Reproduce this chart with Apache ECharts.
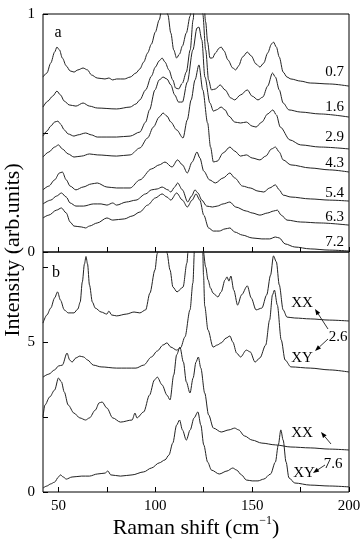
<!DOCTYPE html>
<html><head><meta charset="utf-8">
<script src="https://cdn.jsdelivr.net/npm/echarts@6/dist/echarts.min.js"></script>
<style>html,body{margin:0;padding:0;background:#fff}#c{width:364px;height:550px}</style>
</head><body><div id="c"></div>
<script>
// ---- axis ticks / labels ----
const xTickValues = [50, 75, 100, 125, 150, 175, 200];
const xLabelValues = [50, 100, 150, 200];
const topYTicks = [0, 0.5, 1];
const topYLabels = [0, 1];
const botYTicks = [0, 2.5, 5, 7.5];
const botYLabels = [0, 5];

// ---- panel a: spectra at different pressures ----
const topNames = ['0.7', '1.6', '2.9', '4.3', '5.4', '6.3', '7.2'];
const a07 = [[42,0.735],[44,0.752],[46,0.794],[48,0.840],[49.2,0.861],[50.5,0.849],[52,0.815],[54,0.782],[56,0.761],[58,0.756],[60,0.765],[62.7,0.773],[65,0.765],[67,0.744],[70,0.731],[74,0.727],[76,0.731],[78,0.723],[80,0.727],[84,0.727],[87,0.735],[90,0.752],[92,0.769],[94,0.798],[96,0.836],[98,0.874],[100,0.924],[102,0.975],[104,1.06],[105.5,1.02],[106.5,0.996],[108,0.920],[109.5,0.849],[111,0.815],[112.5,0.832],[114,0.866],[116,0.920],[118,0.992],[119.5,1.15],[121,1.5],[122,1.6],[123,1.5],[124.5,1.12],[126,0.966],[127,0.882],[128.2,0.815],[129.5,0.815],[131,0.836],[133,0.857],[134,0.861],[135.5,0.845],[137.5,0.807],[140,0.773],[141.5,0.765],[143,0.782],[145,0.819],[147.5,0.840],[149.5,0.824],[152,0.790],[154,0.777],[156,0.794],[158,0.836],[160,0.874],[161,0.882],[162.5,0.861],[164,0.819],[166,0.756],[168,0.735],[170,0.727],[175,0.718],[180,0.710],[190,0.706],[200,0.697]];
const a16 = [[42,0.609],[44.5,0.634],[47,0.655],[49.2,0.676],[51,0.660],[53,0.634],[55.5,0.618],[59,0.613],[62.7,0.626],[66,0.613],[70,0.605],[80,0.601],[87,0.609],[90,0.622],[92,0.639],[95,0.681],[98,0.739],[100,0.777],[102,0.803],[103.5,0.815],[105,0.798],[107,0.765],[109,0.723],[110.5,0.689],[112,0.685],[114,0.710],[116,0.756],[118,0.849],[119.5,0.975],[121,1.2],[122,1.35],[123,1.25],[124.5,1.0],[126,0.849],[127.5,0.723],[129,0.681],[131,0.685],[133.5,0.702],[136,0.681],[139,0.647],[141,0.639],[144,0.660],[147.5,0.681],[150,0.655],[153,0.639],[155.5,0.651],[158,0.697],[160.5,0.752],[162,0.735],[164,0.681],[166,0.626],[169,0.597],[175,0.588],[185,0.580],[200,0.567]];
const a29 = [[42,0.487],[44,0.508],[46,0.529],[48,0.546],[49.7,0.550],[51,0.538],[53,0.513],[55,0.496],[58,0.487],[60,0.492],[64,0.500],[67,0.492],[70,0.483],[80,0.483],[87,0.487],[92,0.504],[95,0.546],[97,0.597],[99.8,0.681],[102,0.723],[104,0.735],[106,0.727],[108,0.702],[110,0.660],[112,0.630],[114,0.630],[116.5,0.714],[119.4,0.849],[121.5,0.941],[122.5,0.945],[124,0.891],[125.6,0.735],[128.2,0.626],[130,0.592],[131.5,0.597],[134,0.609],[136,0.597],[138,0.571],[141,0.546],[144,0.542],[147,0.546],[150,0.529],[152,0.525],[155,0.546],[158,0.580],[160.7,0.597],[162.5,0.576],[164.5,0.525],[169.5,0.471],[175,0.450],[185,0.441],[200,0.433]];
const a43 = [[42,0.399],[45,0.420],[48,0.441],[50,0.450],[52,0.433],[55,0.412],[58,0.399],[62,0.403],[66,0.412],[70,0.408],[80,0.403],[87,0.408],[92,0.437],[96,0.479],[99,0.525],[102,0.567],[104,0.584],[106,0.571],[108,0.546],[111,0.513],[114.3,0.479],[116.5,0.555],[118.5,0.639],[120.5,0.723],[122.5,0.786],[124.5,0.681],[127,0.542],[128.5,0.441],[130,0.378],[132,0.382],[135,0.416],[138.5,0.441],[141,0.424],[144,0.403],[147,0.408],[150,0.395],[154,0.387],[157,0.403],[160,0.433],[162,0.441],[164,0.420],[166,0.387],[170,0.366],[180,0.353],[190,0.345],[200,0.336]];
const a54 = [[42,0.261],[45,0.277],[48,0.303],[50.5,0.332],[52,0.336],[54,0.303],[56,0.277],[59,0.261],[62.7,0.273],[67,0.286],[70,0.290],[75,0.273],[80,0.269],[87,0.269],[92,0.303],[98,0.349],[102,0.366],[105,0.378],[108.6,0.357],[111.5,0.387],[114,0.366],[116.5,0.332],[119,0.378],[121.5,0.420],[123,0.395],[125,0.340],[128,0.303],[131,0.290],[135,0.311],[138.5,0.332],[141,0.311],[145,0.277],[149,0.269],[153,0.256],[156,0.252],[159,0.269],[162,0.282],[164,0.261],[166,0.239],[170,0.231],[180,0.223],[190,0.218],[200,0.214]];
const a63 = [[42,0.202],[46,0.218],[49,0.235],[51.5,0.248],[54,0.231],[56,0.206],[59,0.193],[63,0.193],[68,0.202],[72,0.202],[75,0.197],[78,0.206],[80,0.197],[85,0.210],[90,0.218],[95,0.244],[98,0.261],[101,0.265],[103.5,0.273],[106.5,0.261],[108,0.252],[110,0.273],[111.5,0.290],[114,0.261],[116.7,0.210],[118.7,0.235],[120.5,0.261],[122,0.248],[124,0.218],[126.5,0.193],[129.5,0.189],[132,0.193],[135,0.202],[138.5,0.210],[141.5,0.189],[147,0.172],[150,0.164],[154,0.155],[158,0.164],[161,0.172],[163,0.176],[165,0.155],[168,0.134],[175,0.126],[185,0.122],[200,0.113]];
const a72 = [[42,0.143],[45,0.155],[49,0.176],[51.5,0.185],[54,0.164],[56,0.126],[58,0.109],[62,0.105],[64,0.101],[66,0.109],[70,0.122],[75,0.143],[78,0.134],[84,0.139],[88,0.151],[92,0.168],[96,0.197],[100,0.227],[103.5,0.244],[106,0.231],[108,0.218],[111,0.248],[114,0.218],[116.5,0.189],[119,0.218],[121,0.244],[123,0.218],[125,0.155],[127.5,0.101],[130,0.088],[133,0.088],[136,0.097],[138.5,0.101],[141,0.084],[145,0.071],[150,0.059],[155,0.055],[159,0.055],[162,0.063],[164,0.059],[167,0.034],[172,0.021],[180,0.013],[190,0.008],[200,0.004]];

// ---- panel b: polarized spectra ----
const bXX26 = [[42,5.63],[44,5.90],[46,6.13],[48,6.47],[49.5,6.67],[51,6.40],[53,6.07],[55,5.97],[58,5.97],[60,6.10],[61.2,6.33],[62.3,7.0],[63.4,7.6],[64.2,7.85],[65,7.6],[66,6.9],[67.5,6.33],[69,6.13],[72,6.00],[75,5.93],[76,6.03],[77.5,5.90],[80,5.87],[85,5.93],[89,6.00],[92,5.97],[95,6.07],[97.2,6.63],[99.8,7.4],[101,7.95],[103,8.6],[105,8.5],[106,7.97],[107.6,7.40],[109.1,6.83],[111.2,6.67],[114.3,6.83],[116.3,7.63],[117,8.1],[119,9.5],[122,11],[124,9.0],[124.6,8.1],[126,7.5],[127.2,7.07],[128.5,6.8],[129.8,6.63],[132.3,6.50],[134,6.67],[136,7.07],[137,7.17],[138,7.03],[139,7.20],[140.5,6.73],[142.5,6.23],[144.5,6.57],[147.5,6.87],[149.5,6.47],[152,6.07],[155,6.13],[157.5,6.57],[159.5,7.23],[161,7.87],[162.5,7.67],[164,6.90],[166,6.07],[168,5.83],[172,5.80],[180,5.77],[190,5.73],[200,5.70]];
const bXY26 = [[42,3.83],[45,3.93],[48,4.07],[50,4.20],[52,4.23],[54.4,4.63],[55.8,4.40],[57,4.33],[59,4.47],[61,4.53],[63,4.50],[65,4.40],[68,4.23],[72,4.17],[80,4.13],[90,4.13],[94,4.23],[98,4.50],[101,4.70],[104,4.90],[106,4.97],[108,4.83],[111,4.73],[113,4.80],[115.3,5.17],[117.9,6.07],[119.4,6.97],[120.3,8.2],[122.5,11],[124.3,8.5],[124.9,7.2],[125.5,6.2],[127.2,5.4],[129.8,4.83],[132,4.90],[134,4.97],[136.5,5.13],[138.5,5.20],[140,5.00],[142,4.63],[144,4.50],[147,4.73],[149,4.67],[151.5,4.33],[154,4.47],[157,4.90],[159,5.73],[160.5,6.57],[161.5,6.73],[163,6.23],[165,5.07],[167,4.40],[170,4.17],[180,4.13],[190,4.07],[200,4.00]];
const bXX76 = [[42,2.50],[43,2.90],[45.5,3.17],[48,3.40],[50,3.80],[51.5,3.67],[53,3.33],[55,2.90],[58,2.63],[61,2.47],[64,2.40],[66,2.47],[69,2.73],[71,2.97],[72.5,3.00],[75,2.80],[78,2.47],[82,2.33],[88,2.40],[89.5,2.63],[90.5,2.47],[94,2.67],[97,3.23],[99.5,3.73],[101,3.83],[103.5,3.57],[106,3.23],[107.6,3.07],[109.5,3.90],[111,4.57],[112.7,4.83],[114.5,4.33],[116,3.67],[117.9,3.30],[119.5,3.80],[121,4.33],[122.2,4.50],[123.5,4.13],[125.5,3.30],[127.5,2.57],[130,2.13],[134,2.00],[138,2.07],[141,2.13],[143,2.07],[146,1.87],[150,1.73],[155,1.63],[162,1.57],[170,1.50],[180,1.47],[190,1.43],[200,1.40]];
const bXY76 = [[42,0.13],[44,0.20],[46,0.27],[48,0.33],[50,0.50],[51,0.57],[52.5,0.50],[54,0.43],[57,0.50],[62,0.53],[66,0.53],[70,0.60],[74,0.63],[75.5,0.70],[77,0.57],[82,0.53],[88,0.57],[94,0.67],[98,0.80],[102,0.97],[105,1.07],[107,1.23],[109,1.63],[111,2.23],[112.5,2.40],[114,2.07],[116,1.73],[118,2.07],[120,2.47],[122,2.67],[123.5,2.23],[125,1.57],[127,1.00],[129,0.73],[133,0.60],[137,0.70],[140,0.80],[142,0.73],[144.5,0.57],[147,0.40],[150,0.37],[153,0.37],[156,0.43],[159.5,0.60],[162,1.00],[163.5,1.57],[164.8,2.07],[166,1.73],[167.5,1.00],[169,0.47],[172,0.30],[180,0.23],[190,0.20],[200,0.17]];

const FONT = '"Liberation Serif","Times New Roman",serif';
const LINE = '#222';

const chart = echarts.init(document.getElementById('c'), null, {renderer: 'canvas'});

function mkSeries(data, gi) {
  return {type: 'line', xAxisIndex: gi, yAxisIndex: gi, data: data, showSymbol: false,
    smooth: 0.3, smoothMonotone: 'x', clip: true, silent: true,
    lineStyle: {color: LINE, width: 1}};
}
const series = [a07, a16, a29, a43, a54, a63, a72].map(d => mkSeries(d, 0))
  .concat([bXX26, bXY26, bXX76, bXY76].map(d => mkSeries(d, 1)));

function xAx(gi, showLabel) {
  return {type: 'value', gridIndex: gi, min: 42, max: 200,
    axisLine: {show: false}, splitLine: {show: false},
    axisTick: {show: true, inside: true, length: 5, customValues: xTickValues, lineStyle: {color: '#000'}},
    axisLabel: {show: showLabel, customValues: xLabelValues, color: '#000', fontFamily: FONT, fontSize: 15, margin: 7},
    name: showLabel ? '{n|Raman shift (cm}{s|\u22121}{n|)}' : '',
    nameLocation: 'middle', nameGap: 22,
    nameTextStyle: {rich: {
      n: {fontFamily: FONT, fontSize: 22, color: '#000', lineHeight: 26},
      s: {fontFamily: FONT, fontSize: 12, color: '#000', verticalAlign: 'top', lineHeight: 14}
    }}
  };
}
function yAx(gi, max, ticks, labels) {
  return {type: 'value', gridIndex: gi, min: 0, max: max,
    axisLine: {show: false}, splitLine: {show: false},
    axisTick: {show: true, inside: true, length: 5, customValues: ticks, lineStyle: {color: '#000'}},
    axisLabel: {customValues: labels, color: '#000', fontFamily: FONT, fontSize: 15, margin: 8}};
}

function txt(t, x, y, align, size) {
  return {type: 'text', x: x, y: y, silent: true,
    style: {text: t, fill: '#000', font: (size || 15) + 'px ' + FONT, textAlign: align || 'center', textVerticalAlign: 'middle'}};
}
function arrow(x1, y1, x2, y2) {
  const ang = Math.atan2(y2 - y1, x2 - x1), L = 6, W = 2.3;
  const bx = x2 - L * Math.cos(ang), by = y2 - L * Math.sin(ang);
  const px = -Math.sin(ang) * W, py = Math.cos(ang) * W;
  return [
    {type: 'line', silent: true, shape: {x1: x1, y1: y1, x2: bx, y2: by}, style: {stroke: '#000', lineWidth: 0.8}},
    {type: 'polygon', silent: true, shape: {points: [[x2, y2], [bx + px, by + py], [bx - px, by - py]]}, style: {fill: '#000'}}
  ];
}

const topLabelY = [72, 107, 137, 163, 193, 217, 242];
const graphics = [
  {type: 'text', x: 13, y: 250, rotation: Math.PI / 2, silent: true,
   style: {text: 'Intensity (arb.units)', fill: '#000', font: '22px ' + FONT, textAlign: 'center', textVerticalAlign: 'middle'}},
  txt('a', 58, 33, 'center', 16),
  txt('b', 56, 273, 'center', 16),
  txt('XX', 302, 303), txt('2.6', 338, 337), txt('XY', 302, 358),
  txt('XX', 302, 433), txt('7.6', 333, 464), txt('XY', 304, 473)
].concat(topNames.map((n, i) => txt(n, 344, topLabelY[i], 'right')))
 .concat(arrow(328, 329, 315, 309), arrow(328, 339, 315, 351),
         arrow(331, 444, 321, 432), arrow(325, 465, 313, 473));

chart.setOption({
  animation: false,
  backgroundColor: '#fff',
  grid: [
    {left: 43, top: 14, width: 306, height: 238, show: true, borderColor: '#000', borderWidth: 1, backgroundColor: 'transparent'},
    {left: 43, top: 252, width: 306, height: 240, show: true, borderColor: '#000', borderWidth: 1, backgroundColor: 'transparent'}
  ],
  xAxis: [xAx(0, false), xAx(1, true)],
  yAxis: [yAx(0, 1, topYTicks, topYLabels), yAx(1, 8, botYTicks, botYLabels)],
  series: series,
  graphic: {elements: graphics}
});
</script></body></html>
